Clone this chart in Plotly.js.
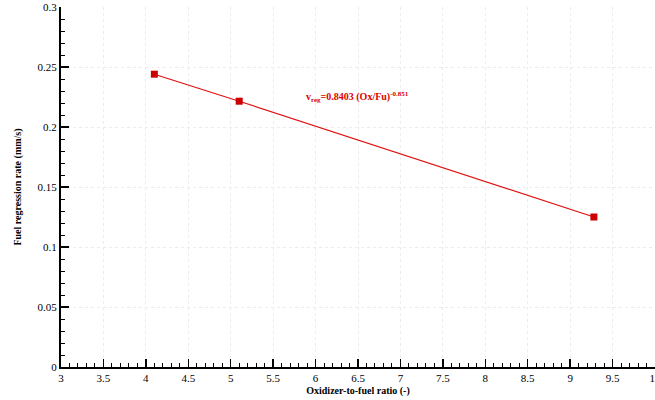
<!DOCTYPE html>
<html>
<head>
<meta charset="utf-8">
<script src="https://cdn.plot.ly/plotly-3.0.1.min.js"></script>
<style>
  html, body { margin: 0; padding: 0; overflow: hidden; background: #fff; }
  #chart { width: 655px; height: 400px; }
</style>
</head>
<body>
<div id="chart"></div>
<script>
// Measured regression rate against oxidizer-to-fuel ratio
const ofRatio = [4.1, 5.1, 9.28];
const regressionRate = [0.244, 0.2215, 0.125];

const fitLabel = 'v<sub>reg</sub>=0.8403 (Ox/Fu)<sup>-0.851</sup>';
const xTitle = 'Oxidizer-to-fuel ratio (-)';
const yTitle = 'Fuel regression rate (mm/s)';

const serif = 'Times New Roman, Times, serif';

const trace = {
  x: ofRatio,
  y: regressionRate,
  mode: 'lines+markers',
  line: { color: '#e01010', width: 1.2 },
  marker: { symbol: 'square', size: 7, color: '#cc0000' },
  hoverinfo: 'x+y'
};

const axisCommon = {
  showline: true,
  linecolor: '#000',
  linewidth: 2,
  ticks: 'inside',
  ticklen: 8,
  tickwidth: 1.5,
  tickcolor: '#000',
  showgrid: true,
  gridcolor: '#ececec',
  griddash: 'dot',
  gridwidth: 1,
  zeroline: false,
  tickfont: { family: serif, size: 11, color: '#000' },
  mirror: false
};

const layout = {
  width: 655,
  height: 400,
  margin: { l: 61, r: 0, t: 7, b: 33 },
  paper_bgcolor: '#fff',
  plot_bgcolor: '#fff',
  showlegend: false,
  font: { family: serif },
  xaxis: Object.assign({}, axisCommon, {
    range: [3, 10],
    dtick: 0.5,
    tick0: 3,
    ticklabeloverflow: 'allow',
    minor: { dtick: 0.1, ticks: 'inside', ticklen: 4, tickwidth: 1, tickcolor: '#000', showgrid: false },
    title: { text: xTitle, font: { family: serif, size: 10, color: '#000', weight: 'bold' }, standoff: 4 }
  }),
  yaxis: Object.assign({}, axisCommon, {
    range: [0, 0.3],
    dtick: 0.05,
    tick0: 0,
    minor: { dtick: 0.01, ticks: 'inside', ticklen: 4, tickwidth: 1, tickcolor: '#000', showgrid: false },
    title: { text: yTitle, font: { family: serif, size: 10, color: '#000', weight: 'bold' }, standoff: 14 }
  }),
  annotations: [{
    x: 6.49, y: 0.225, xref: 'x', yref: 'y',
    text: fitLabel,
    showarrow: false,
    font: { family: serif, size: 10, color: '#dd0000', weight: 'bold' }
  }]
};

Plotly.newPlot('chart', [trace], layout, { displayModeBar: false, staticPlot: true });
</script>
</body>
</html>
